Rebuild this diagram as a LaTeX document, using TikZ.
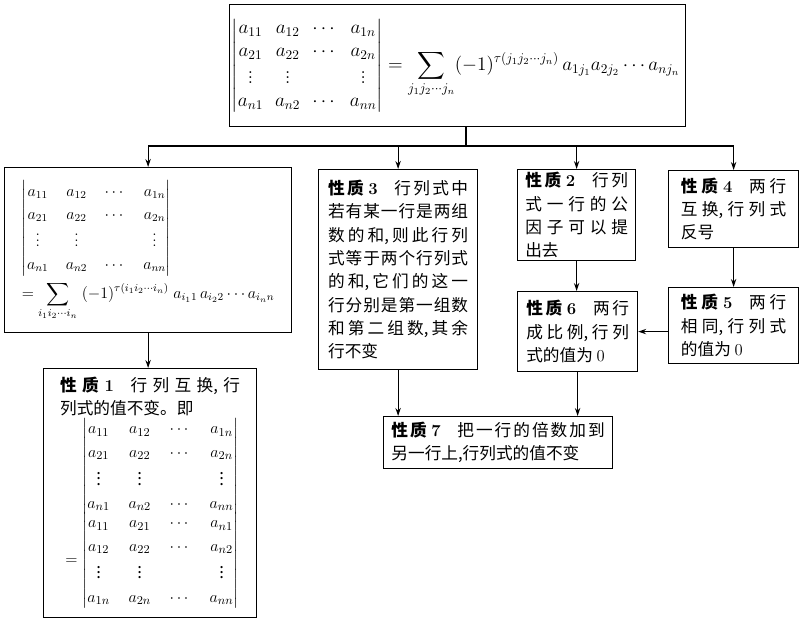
\documentclass[tikz,border=0pt]{standalone}
\usepackage{amsmath}
\usepackage[no-math]{fontspec}
\newfontfamily\cjk{Noto Sans CJK SC}
\usetikzlibrary{arrows.meta, positioning}
\XeTeXlinebreaklocale "zh"
\XeTeXlinebreakskip=0pt plus 4pt

\newcommand{\matA}{\begin{vmatrix}
a_{11} & a_{12} & \cdots & a_{1n}\\
a_{21} & a_{22} & \cdots & a_{2n}\\
\vdots & \vdots &        & \vdots\\
a_{n1} & a_{n2} & \cdots & a_{nn}
\end{vmatrix}}
\newcommand{\matAT}{\begin{vmatrix}
a_{11} & a_{21} & \cdots & a_{n1}\\
a_{12} & a_{22} & \cdots & a_{n2}\\
\vdots & \vdots &        & \vdots\\
a_{1n} & a_{2n} & \cdots & a_{nn}
\end{vmatrix}}

\begin{document}
\begin{tikzpicture}[
x=0.75pt, y=-0.75pt,
>={Stealth[length=6pt,width=4pt]},
every node/.style={font=\cjk\fontsize{12.5}{17.5}\selectfont},
box/.style={
rectangle,
draw,
line width=0.9pt,
anchor=north west,
inner sep=0pt
},
mathbox/.style={
box,
align=left
},
textbox/.style={
box,
align=justify
},
line/.style={draw, line width=0.9pt, ->}
]
\useasboundingbox (0,0) rectangle (800,622);

% Nodes
\node[mathbox, minimum width=342pt, minimum height=91.5pt,
font=\fontsize{14.4}{17}\selectfont] (top) at (229,4)
{\setlength{\arraycolsep}{4.5pt}\renewcommand{\arraystretch}{1.0}%
$\displaystyle \matA = \sum_{j_1j_2\cdots j_n}(-1)^{\tau(j_1j_2\cdots j_n)}\,a_{1j_1}a_{2j_2}\cdots a_{nj_n}$\hspace*{3pt}};

\node[mathbox, minimum width=215.25pt, minimum height=123.75pt,
font=\fontsize{12}{15}\selectfont] (def) at (4,167)
{\setlength{\arraycolsep}{6.5pt}\renewcommand{\arraystretch}{1.15}%
$\displaystyle \matA$\\[3pt]
$\displaystyle = \sum_{i_1i_2\cdots i_n}\;(-1)^{\tau(i_1i_2\cdots i_n)}\;a_{i_11}\,a_{i_22}\cdots a_{i_nn}$};

\node[textbox, text width=135pt, minimum width=159.75pt, minimum height=186.75pt] (p1) at (43,368)
{\textbf{性质 \textrm{1}}\quad 行列互换,行\linebreak 列式的值不变。即\par
\setlength{\arraycolsep}{7pt}\renewcommand{\arraystretch}{1.0}%
\hspace*{4pt}$\begin{array}{@{}c@{\;}l@{}}
  & \matA\\[-3pt]
= & \matAT
\end{array}$};

\node[textbox, text width=105pt, minimum width=119.25pt, minimum height=150pt] (p3) at (318,169)
{\textbf{性质 \textrm{3}}\quad 行列式中\linebreak 若有某一行是两组\linebreak 数的和,则此行列\linebreak 式等于两个行列式\linebreak 的和,它们的这一\linebreak 行分别是第一组数\linebreak 和第二组数,其余\linebreak 行不变};

\node[textbox, text width=77pt, minimum width=88.5pt, minimum height=68.25pt] (p2) at (517,169)
{\textbf{性质 \textrm{2}}\quad 行列\linebreak 式一行的公\linebreak 因子可以提\linebreak 出去};

\node[textbox, text width=79pt, minimum width=97.5pt, minimum height=57.75pt] (p4) at (668,170)
{\textbf{性质 \textrm{4}}\quad 两行\linebreak 互换,行列式\linebreak 反号};

\node[textbox, text width=77pt, minimum width=90pt, minimum height=60pt] (p6) at (517,291)
{\textbf{性质 \textrm{6}}\quad 两行\linebreak 成比例,行列\linebreak 式的值为 \textrm{0}};

\node[textbox, text width=79pt, minimum width=97.5pt, minimum height=57pt] (p5) at (668,287)
{\textbf{性质 \textrm{5}}\quad 两行\linebreak 相同,行列式\linebreak 的值为 \textrm{0}};

\node[textbox, text width=160pt, minimum width=171.75pt, minimum height=39pt] (p7) at (383,416)
{\parfillskip=0pt \textbf{性质 \textrm{7}}\quad 把一行的倍数加到\linebreak 另一行上,行列式的值不变};

\coordinate (bus) at (466,146);

% Connections
\draw[line, -] (top.south -| bus) -- (bus);
\draw[line, -] (bus -| def.north) -- (bus -| p4.north);
\draw[line] (bus -| def.north) -- (def.north);
\draw[line] (bus -| p3.north) -- (p3.north);
\draw[line] (bus -| p2.north) -- (p2.north);
\draw[line] (bus -| p4.north) -- (p4.north);

\draw[line] (def.south) -- (def.south |- p1.north);

\draw[line] (p2.south) -- (p2.south |- p6.north);
\draw[line] (p4.south) -- (p4.south |- p5.north);
\draw[line] (p6.east -| p5.west) -- (p6.east);

\draw[line] (p3.south) -- (p3.south |- p7.north);
\draw[line] (p6.south) -- (p6.south |- p7.north);

\end{tikzpicture}
\end{document}
